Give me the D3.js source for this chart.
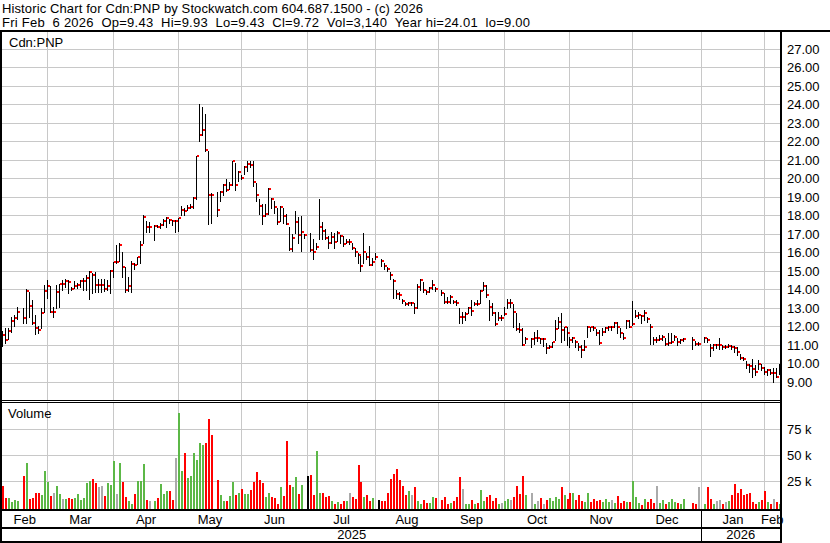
<!DOCTYPE html>
<html><head><meta charset="utf-8">
<script src="https://cdnjs.cloudflare.com/ajax/libs/d3/7.8.5/d3.min.js"></script>
<style>
html,body{margin:0;padding:0;background:#fff;}
svg{display:block;}
text{font-family:Arial,"Liberation Sans",sans-serif;font-size:13px;fill:#000;white-space:pre;}
</style></head><body>
<svg id="chart" width="830" height="543"></svg>
<script>
const headerLines = [
  "Historic Chart for Cdn:PNP by Stockwatch.com 604.687.1500 - (c) 2026",
  "Fri Feb  6 2026  Op=9.43  Hi=9.93  Lo=9.43  Cl=9.72  Vol=3,140  Year hi=24.01  lo=9.00"
];
const headerWidths = [421, 528];
const symbol = "Cdn:PNP";
const firstDay = "2025-02-07";
const lastDay = "2026-02-06";
// one entry per weekday; null = no trading (holiday)
const highs = [11.75,11.9,11.9,12.47,12.6,13.05,null,13.0,13.98,13.85,13.4,12.6,12.0,13.0,14.2,14.5,14.16,13.05,14.2,14.27,14.5,14.54,14.5,14.1,14.45,14.3,14.5,14.6,14.75,15.0,14.85,14.9,14.52,14.52,14.52,14.5,15.03,15.48,16.38,16.47,16.0,15.2,14.67,15.53,15.42,15.73,16.58,18.0,17.66,17.6,null,17.48,17.48,17.55,17.8,17.87,17.8,17.75,17.75,17.84,18.47,18.38,18.56,18.6,19.0,21.2,24.01,23.84,23.46,21.48,19.2,null,19.24,19.28,19.68,19.96,19.78,20.94,20.8,20.4,20.18,20.65,20.94,20.9,20.9,19.73,18.84,18.57,18.57,19.47,18.93,18.75,18.39,18.48,18.39,18.03,17.36,16.95,18.24,17.9,17.97,16.95,null,17.04,16.68,16.5,18.87,17.6,17.27,16.86,17.07,17.04,17.13,16.9,16.86,16.68,16.68,16.46,16.23,15.95,15.77,17.04,15.95,16.3,15.68,15.95,null,15.6,15.4,15.18,14.9,14.55,13.93,13.85,13.44,13.31,13.31,13.31,13.22,14.29,14.55,14.38,13.97,14.11,14.47,14.11,null,13.93,13.76,13.58,13.67,13.4,13.4,12.96,12.78,12.78,13.05,13.4,13.31,13.4,13.93,14.38,14.2,13.4,13.22,12.78,12.78,12.6,13.05,13.44,13.44,13.2,12.68,12.14,11.87,11.42,null,11.33,11.69,11.8,11.33,11.33,11.06,10.97,11.15,12.32,12.5,12.71,11.96,11.96,11.42,11.42,11.24,11.06,10.97,11.24,12.0,11.96,12.0,11.82,11.78,11.87,11.96,12.0,12.0,12.23,12.23,11.87,11.6,12.35,12.35,13.34,12.85,12.77,12.6,12.85,12.5,12.1,11.42,11.42,11.5,11.5,11.33,11.6,11.6,11.5,11.33,11.29,11.33,null,null,11.42,11.18,11.15,null,11.42,11.36,11.05,11.05,11.05,11.36,11.0,11.0,11.05,10.96,10.93,10.87,10.51,10.33,10.09,9.96,10.24,9.87,10.15,9.96,9.78,9.69,9.69,9.73,9.73,9.93];
const lows = [10.9,11.1,11.3,11.7,12.0,12.38,null,12.15,12.15,12.5,12.1,11.58,11.64,11.9,12.77,13.5,12.75,12.5,13.0,13.05,13.95,14.1,13.8,13.95,14.03,14.05,14.1,13.95,13.95,13.47,13.77,13.86,13.86,13.86,13.9,13.95,13.77,14.67,15.4,15.5,14.67,13.86,13.9,13.82,15.06,15.37,15.4,16.5,17.08,17.08,null,16.63,17.33,17.3,17.44,17.33,17.57,17.48,17.1,17.15,17.98,18.0,18.29,18.38,18.38,18.88,21.98,22.34,21.48,17.5,17.57,null,17.93,18.74,19.06,19.28,19.42,19.6,19.37,19.82,19.96,20.2,20.4,20.57,19.55,18.77,18.03,17.49,17.94,18.03,18.39,18.12,17.49,17.67,17.58,17.49,16.1,16.05,17.04,16.5,16.05,16.77,null,16.08,15.6,16.14,16.68,16.68,16.68,16.23,16.5,16.23,16.59,16.5,16.32,16.46,16.41,16.14,15.8,15.41,15.0,15.41,15.6,15.3,15.32,15.6,null,15.25,15.1,15.0,14.55,13.49,13.49,13.44,13.22,13.13,13.13,13.13,12.69,12.96,13.93,13.85,13.75,13.85,14.02,13.9,null,13.67,13.22,13.22,13.22,13.22,13.13,12.16,12.16,12.34,12.69,12.6,13.13,13.13,13.22,13.93,13.58,12.3,12.6,12.03,12.34,12.34,12.6,12.96,13.05,11.96,11.8,11.69,10.97,11.06,null,10.85,11.02,11.2,11.06,10.92,10.52,10.79,10.88,11.24,11.87,11.15,11.24,10.97,10.88,11.15,10.88,10.7,10.31,10.7,11.42,11.74,11.78,11.51,11.02,11.51,11.69,11.78,11.8,11.92,11.6,11.42,11.28,11.87,11.96,12.05,12.5,12.41,12.14,12.3,12.2,11.05,11.05,11.15,11.24,11.24,10.96,11.0,11.1,11.24,10.96,11.1,11.18,null,null,10.75,11.0,11.0,null,11.15,11.15,10.38,10.69,10.82,10.78,10.78,10.82,10.87,10.75,10.6,10.42,10.2,10.15,9.73,9.51,9.24,9.33,9.65,9.6,9.42,9.33,9.42,9.0,9.24,9.43];
const closes = [11.5,11.25,11.73,12.29,12.45,12.76,null,12.45,13.9,13.08,12.17,11.87,11.8,12.72,13.9,14.16,12.76,12.76,13.85,14.27,14.27,14.45,14.38,14.0,14.16,14.2,14.42,14.45,14.6,14.94,14.78,14.24,14.24,14.24,14.0,14.16,15.0,15.48,15.48,16.4,15.2,13.95,14.16,15.37,15.28,15.71,16.4,17.9,17.37,17.37,null,17.42,17.37,17.44,17.7,17.82,17.75,17.7,17.7,17.82,18.29,18.2,18.38,18.45,18.9,21.17,22.3,22.6,21.5,19.1,19.06,null,18.25,19.24,19.6,19.37,19.6,20.9,19.6,20.3,20.0,20.57,20.73,20.7,19.77,19.1,18.5,17.97,18.05,19.4,18.84,18.42,17.6,18.42,17.94,17.54,16.15,16.78,17.6,16.9,17.1,16.9,null,16.13,16.0,16.28,17.34,17.13,16.75,16.46,16.8,16.55,17.04,16.86,16.41,16.55,16.55,16.23,16.0,15.86,15.27,16.0,15.72,15.3,15.46,15.72,null,15.5,15.27,15.07,14.73,14.43,13.72,13.68,13.37,13.2,13.26,13.26,12.99,14.11,14.47,13.93,13.85,14.06,14.22,14.0,null,13.81,13.31,13.28,13.58,13.31,13.26,12.51,12.51,12.64,12.96,12.83,13.2,13.17,13.9,14.17,13.67,13.05,12.69,12.12,12.42,12.42,12.65,13.22,13.22,12.77,11.83,11.78,11.0,11.29,null,11.29,11.37,11.37,11.29,11.29,10.79,10.88,11.11,11.82,12.23,11.78,11.96,11.64,11.24,11.33,11.11,10.88,10.7,10.88,11.96,11.92,11.9,11.6,11.06,11.69,11.9,11.96,11.96,12.17,11.96,11.6,11.33,12.28,11.96,12.1,12.53,12.59,12.53,12.68,12.36,11.96,11.25,11.25,11.29,11.38,11.02,11.07,11.15,11.42,11.15,11.22,11.29,null,null,11.24,11.05,11.05,null,11.36,11.22,10.82,10.96,10.96,10.96,10.87,10.87,10.93,10.85,10.82,10.6,10.27,10.24,9.87,9.84,9.69,9.51,9.96,9.73,9.51,9.6,9.47,9.47,9.24,9.72];
const volumesK = [20.6,8.9,8.9,5,7,6,null,30,42,8,9,14,13.6,12,35,24,11,13.6,20,13,8,8,9,8,9,12.7,7,9,23,25,27,23,19,20.6,11,23,21,44,13,42,24,9.5,6,3,12.7,25,25,41,7,6,null,6,9,22,12.7,16,16,7,47,90,35,52,28,30,52,45,61,59,61,84,69,null,26,12,6,6,11,24,12,13.6,18,13,13,17,24,34,26,23,9.5,14,9.5,9,3,19,11,63,21.5,19,29,12.7,21.5,null,30,31,12,54,14,14,10,11,6,3,5,3,6,6,14,10,8,40,24,9.5,12,6,9,null,7,6,6,14,27,32,37,26,20.6,12,16,12,19.6,6,3,7,4.7,4.7,10,9,null,7,10,3,4.7,5.7,10,29,18,3,3,7,3,4.7,16.5,5.7,9.5,12,5.7,9,3,4.7,5.7,8,7,9.5,20.6,13,30,12,null,14,3,6,9,3,7,9,6,10,8,19,12,8,14,14,7,12,6,5,14,5,8,6,7,5,8,5,7,4,11,4,6,5,5,25,10,4,2,8,5,8,4,20,4,7,3,5,8,5,4,3,8,null,null,4,3,19,null,3,19,8,3,6,7,3,5,6,12,22,14,18,12,13,14,5,3,5,7,16,5,3,8,5,3.14];
const priceTicks = [9,10,11,12,13,14,15,16,17,18,19,20,21,22,23,24,25,26,27];
const volumeTicks = [25000,50000,75000];
const monthNames = ["Feb","Mar","Apr","May","Jun","Jul","Aug","Sep","Oct","Nov","Dec","Jan","Feb"];
const yearNames = ["2025","2026"];

const svg = d3.select("#chart");
const parse = d3.timeParse("%Y-%m-%d");
const days = d3.timeDay.range(parse(firstDay), d3.timeDay.offset(parse(lastDay), 1))
  .filter(d => d.getDay() !== 0 && d.getDay() !== 6);
const n = days.length;
const data = days.map((d, i) => ({i, date: d, h: highs[i], l: lows[i], c: closes[i],
  v: volumesK[i] == null ? null : volumesK[i] * 1000}));

const plotL = 2, plotR = 780;
const x = d3.scaleLinear().domain([0, n - 1]).range([2.7, 779]);
const yP = d3.scaleLinear().domain([9, 27]).range([381.5, 48.5]);
const yV = d3.scaleLinear().domain([0, 75000]).range([507.5, 428.5]);
const px = i => Math.floor(x(i));

const monthStarts = d3.timeMonth.range(d3.timeMonth.ceil(days[0]), d3.timeDay.offset(days[n - 1], 1));
const bIdx = monthStarts.map(m => d3.bisectRight(days, m) - 1);
const bX = bIdx.map(i => px(i) + 0.5);
const janPos = monthStarts.findIndex(m => m.getMonth() === 0);

const grid = "#c8c8c8";
const gP = svg.append("g");
gP.selectAll("line.h").data(priceTicks).join("line")
  .attr("x1", plotL).attr("x2", plotR)
  .attr("y1", d => Math.round(yP(d)) + 0.5).attr("y2", d => Math.round(yP(d)) + 0.5)
  .attr("stroke", grid);
gP.selectAll("line.v").data(bX).join("line")
  .attr("x1", d => d).attr("x2", d => d).attr("y1", 32).attr("y2", 400)
  .attr("stroke", grid);
const gV = svg.append("g");
gV.selectAll("line.h").data(volumeTicks).join("line")
  .attr("x1", plotL).attr("x2", plotR)
  .attr("y1", d => Math.round(yV(d)) + 0.5).attr("y2", d => Math.round(yV(d)) + 0.5)
  .attr("stroke", grid);
gV.selectAll("line.v").data(bX).join("line")
  .attr("x1", d => d).attr("x2", d => d).attr("y1", 403).attr("y2", 509)
  .attr("stroke", grid);

const bars = data.filter(d => d.h != null);
svg.append("g").selectAll("rect").data(bars).join("rect")
  .attr("x", d => px(d.i)).attr("width", 1)
  .attr("y", d => Math.round(yP(d.h)))
  .attr("height", d => Math.max(1, Math.round(yP(d.l)) - Math.round(yP(d.h)) + 1))
  .attr("fill", "#000");
svg.append("g").selectAll("rect").data(bars).join("rect")
  .attr("x", d => px(d.i) + 1).attr("width", 2)
  .attr("y", d => Math.round(yP(d.c)) - 1).attr("height", 2)
  .attr("fill", "#ff0000");

const vols = data.filter(d => d.v != null);
let prevC = null;
const colorOf = {};
data.forEach(d => { if (d.c != null) { colorOf[d.i] = prevC == null ? "#ff0000" : (d.c > prevC ? "#5cb847" : d.c < prevC ? "#ff0000" : "#aaaaaa"); prevC = d.c; } });
svg.append("g").selectAll("rect").data(vols).join("rect")
  .attr("x", d => px(d.i)).attr("width", 2)
  .attr("y", d => Math.round(yV(d.v)))
  .attr("height", d => 509 - Math.round(yV(d.v)))
  .attr("fill", d => colorOf[d.i]);

const frame = svg.append("g").attr("fill", "#000");
frame.append("rect").attr("x", 0).attr("y", 30).attr("width", 830).attr("height", 2);
frame.append("rect").attr("x", 0).attr("y", 30).attr("width", 2).attr("height", 513);
frame.append("rect").attr("x", plotR).attr("y", 30).attr("width", 2).attr("height", 513);
frame.append("rect").attr("x", 0).attr("y", 400).attr("width", plotR).attr("height", 1);
frame.append("rect").attr("x", 0).attr("y", 402).attr("width", plotR).attr("height", 1);
frame.append("rect").attr("x", 0).attr("y", 509).attr("width", plotR).attr("height", 2);
frame.append("rect").attr("x", 0).attr("y", 527).attr("width", plotR).attr("height", 2);
frame.append("rect").attr("x", 0).attr("y", 541).attr("width", plotR).attr("height", 2);
frame.append("rect").attr("x", Math.floor(bX[janPos])).attr("y", 510).attr("width", 1).attr("height", 32);

svg.selectAll("text.hdr").data(headerLines).join("text")
  .attr("x", 2).attr("y", (d, i) => 13 + i * 14)
  .attr("textLength", (d, i) => headerWidths[i]).attr("lengthAdjust", "spacing")
  .text(d => d);
svg.append("text").attr("x", 9).attr("y", 47).text(symbol);
svg.append("text").attr("x", 8).attr("y", 418).text("Volume");

svg.append("g").selectAll("text").data(priceTicks).join("text")
  .attr("x", 787).attr("y", d => yP(d) + 5).text(d => d3.format(".2f")(d));
svg.append("g").selectAll("text").data(volumeTicks).join("text")
  .attr("x", 787).attr("y", d => yV(d) + 5).text(d => (d / 1000) + " k");

const edges = [plotL, ...bX, plotR];
svg.append("g").selectAll("text").data(monthNames).join("text")
  .attr("x", (d, k) => (edges[k] + edges[k + 1]) / 2).attr("y", 524)
  .attr("text-anchor", "middle").text(d => d);
const yEdges = [plotL, bX[janPos], plotR];
svg.append("g").selectAll("text").data(yearNames).join("text")
  .attr("x", (d, k) => (yEdges[k] + yEdges[k + 1]) / 2).attr("y", 539)
  .attr("text-anchor", "middle").text(d => d);
</script>
</body></html>
